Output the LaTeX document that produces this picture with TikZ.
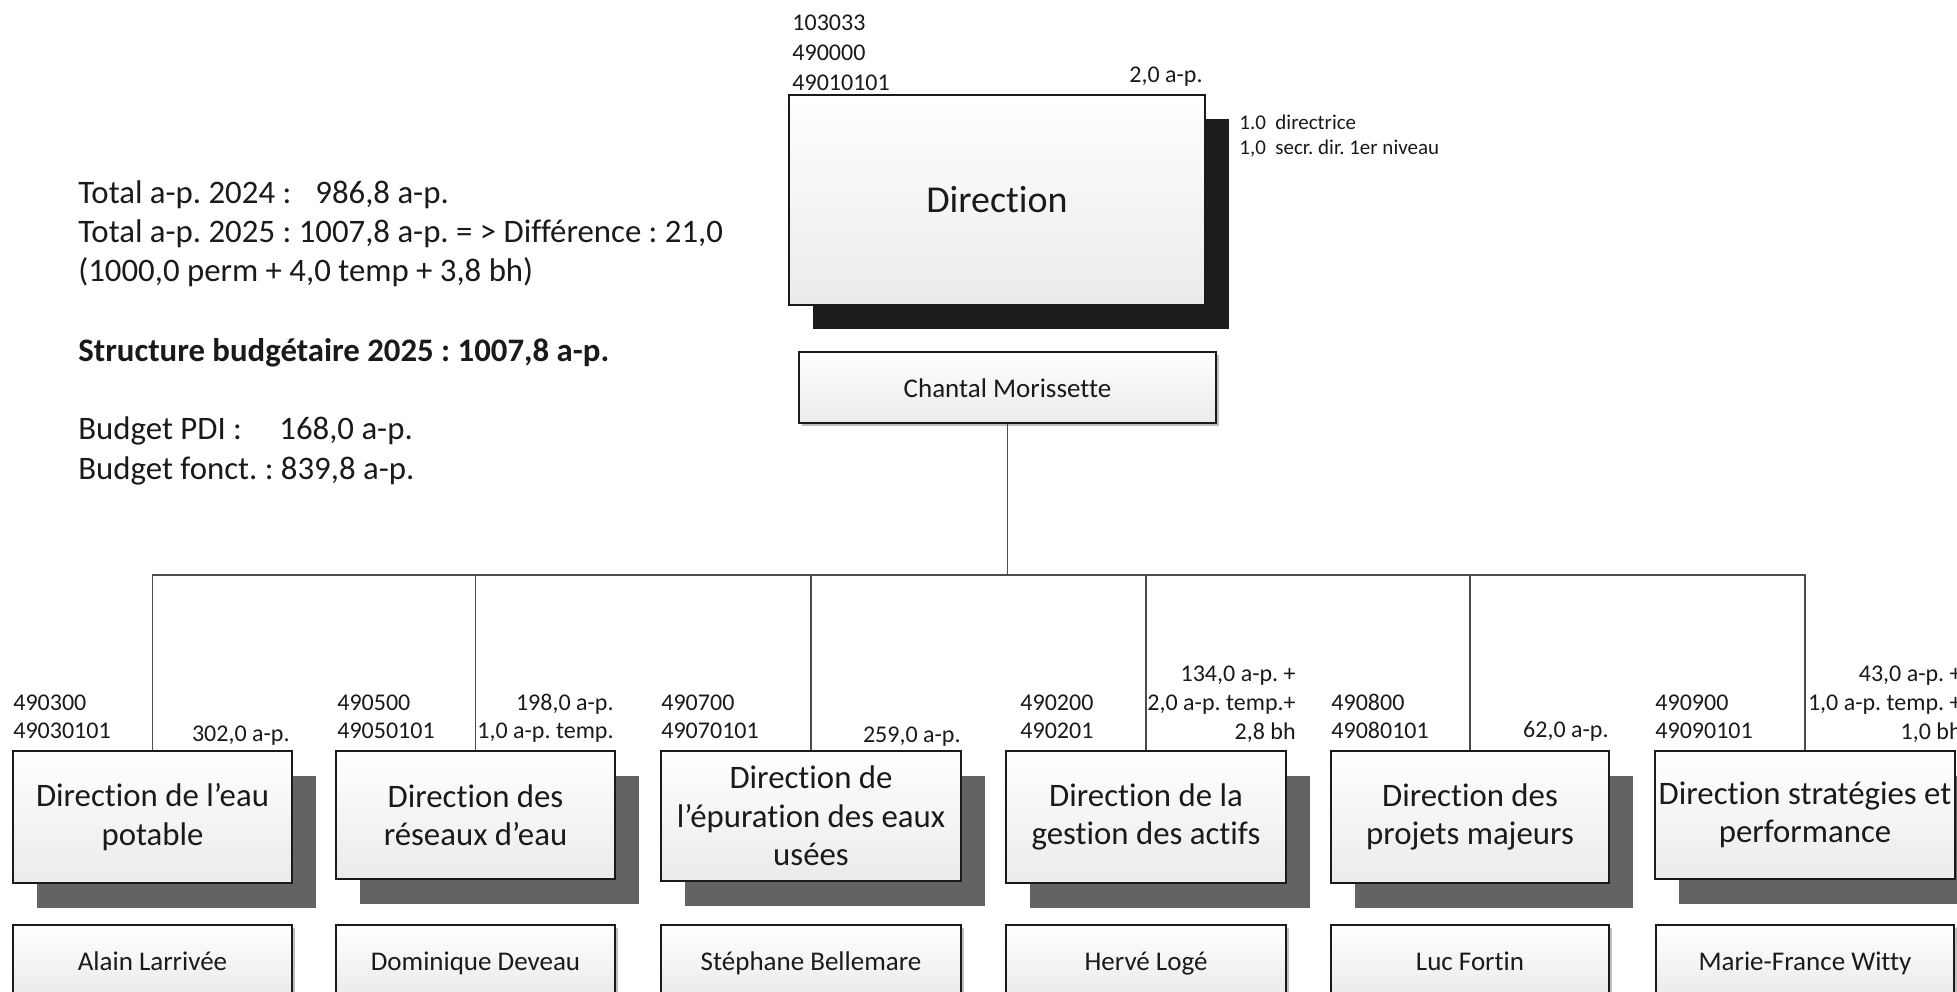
\documentclass[tikz,border=0pt]{standalone}
\usepackage{fontspec}
\setmainfont{Carlito}[Ligatures=NoCommon]
\usetikzlibrary{shadows}
\definecolor{shdark}{HTML}{636363}
\definecolor{shblack}{HTML}{1C1C1C}
\definecolor{ink}{HTML}{1A1A1A}
\begin{document}
\frenchspacing
\begin{tikzpicture}[x=0.5pt,y=-0.5pt,
 boxbase/.style={draw=ink, line width=1pt, top color=white, bottom color=black!8, inner sep=2pt, align=center, text=ink},
 dirbox/.style={boxbase, drop shadow={shadow xshift=12pt, shadow yshift=-12.5pt, fill=shdark, opacity=1}, font=\fontsize{16.4}{19.2}\selectfont},
 topbox/.style={boxbase, drop shadow={shadow xshift=12pt, shadow yshift=-12pt, fill=shblack, opacity=1}, font=\fontsize{19}{23}\selectfont},
 namebox/.style={boxbase, drop shadow={shadow xshift=1.5pt, shadow yshift=-1.5pt, fill=black!25, opacity=1}, font=\fontsize{13.5}{16}\selectfont, text height=0.7em+5pt, text depth=0.2em},
 num/.style={inner sep=0pt, font=\fontsize{12}{14}\selectfont, text=ink},
 small/.style={inner sep=0pt, font=\fontsize{10.5}{12}\selectfont, text=ink},
 info/.style={inner sep=0pt, font=\fontsize{16.4}{19}\selectfont, text=ink},
 link/.style={draw=black!70, line width=0.8pt}]
\useasboundingbox (0,0) rectangle (1957,991);
\clip (0,0) rectangle (1957,991);
\fill[white] (0,0) rectangle (1957,991);

% top
\node[topbox, minimum width=208pt, minimum height=105pt] (dir) at (997,200) {Direction};
\node[namebox, minimum width=208.5pt, minimum height=35.5pt] (chantal) at (1007.5,387.5) {Chantal Morissette};
\node[num, anchor=base west] (c1) at (792,30) {103033};
\node[num, anchor=base west] (c2) at (792,60) {490000};
\node[num, anchor=base west] (c3) at (792,90) {49010101};
\node[num, anchor=base east] (ap0) at (1203,82) {2,0 a-p.};
\node[small, anchor=base west] (r1) at (1239,129) {1.0\hspace{0.45em}directrice};
\node[small, anchor=base west] (r2) at (1239,154) {1,0\hspace{0.45em}secr. dir. 1er niveau};

% info block
\node[info, anchor=base west] (t1) at (78,203) {Total a-p. 2024 :};
\node[info, anchor=base west] (t1v) at (315,203) {986,8 a-p.};
\node[info, anchor=base west] (t2) at (78,242) {Total a-p. 2025 : 1007,8 a-p. = > Différence : 21,0};
\node[info, anchor=base west] (t3) at (78,281) {(1000,0 perm + 4,0 temp + 3,8 bh)};
\node[info, anchor=base west, font=\fontsize{16.4}{19}\selectfont\bfseries] (t4) at (78,361) {Structure budgétaire 2025 : 1007,8 a-p.};
\node[info, anchor=base west] (t5) at (78,439) {Budget PDI :};
\node[info, anchor=base west] (t5v) at (279,439) {168,0 a-p.};
\node[info, anchor=base west] (t6) at (78,479) {Budget fonct. : 839,8 a-p.};

% directions
\node[dirbox, minimum width=139.5pt, minimum height=66pt] (d1) at (152.5,817) {Direction de l’eau\\potable};
\node[dirbox, minimum width=139.5pt, minimum height=64pt] (d2) at (475.5,815) {Direction des\\réseaux d’eau};
\node[dirbox, minimum width=150pt, minimum height=65pt] (d3) at (811,816) {Direction de\\l’épuration des eaux\\usées};
\node[dirbox, minimum width=140pt, minimum height=66pt] (d4) at (1146,817) {Direction de la\\gestion des actifs};
\node[dirbox, minimum width=139pt, minimum height=66pt] (d5) at (1470,817) {Direction des\\projets majeurs};
\node[dirbox, minimum width=149pt, minimum height=64pt] (d6) at (1805,815) {Direction stratégies et\\performance};

% names
\node[namebox, minimum width=139.5pt, minimum height=35pt] (m1) at (152.5,960) {Alain Larrivée};
\node[namebox, minimum width=139.5pt, minimum height=35pt] (m2) at (475.5,960) {Dominique Deveau};
\node[namebox, minimum width=150pt, minimum height=35pt] (m3) at (811,960) {Stéphane Bellemare};
\node[namebox, minimum width=140pt, minimum height=35pt] (m4) at (1146,960) {Hervé Logé};
\node[namebox, minimum width=139pt, minimum height=35pt] (m5) at (1470,960) {Luc Fortin};
\node[namebox, minimum width=149pt, minimum height=35pt] (m6) at (1805,960) {Marie-France Witty};

% numbers above boxes
\node[num, anchor=base west] (a1) at (13,710) {490300};
\node[num, anchor=base west] (b1) at (13,738) {49030101};
\node[num, anchor=base east] (p1) at (290,741) {302,0 a-p.};
\node[num, anchor=base west] (a2) at (337,710) {490500};
\node[num, anchor=base west] (b2) at (337,738) {49050101};
\node[num, anchor=base east] (p2) at (614,710) {198,0 a-p.};
\node[num, anchor=base east] (q2) at (614,738) {1,0 a-p. temp.};
\node[num, anchor=base west] (a3) at (661,710) {490700};
\node[num, anchor=base west] (b3) at (661,738) {49070101};
\node[num, anchor=base east] (p3) at (961,742) {259,0 a-p.};
\node[num, anchor=base west] (a4) at (1020,710) {490200};
\node[num, anchor=base west] (b4) at (1020,738) {490201};
\node[num, anchor=base east] (p4) at (1296,681) {134,0 a-p. +};
\node[num, anchor=base east] (q4) at (1296,710) {2,0 a-p. temp.+};
\node[num, anchor=base east] (s4) at (1296,739) {2,8 bh};
\node[num, anchor=base west] (a5) at (1331,710) {490800};
\node[num, anchor=base west] (b5) at (1331,738) {49080101};
\node[num, anchor=base east] (p5) at (1609,737) {62,0 a-p.};
\node[num, anchor=base west] (a6) at (1655,710) {490900};
\node[num, anchor=base west] (b6) at (1655,738) {49090101};
\node[num, anchor=base east] (p6) at (1962,681) {43,0 a-p. +};
\node[num, anchor=base east] (q6) at (1962,710) {1,0 a-p. temp. +};
\node[num, anchor=base east] (s6) at (1962,739) {1,0 bh};

% connectors
\coordinate (bus) at (1007.5,575);
\draw[link] (chantal.south) -- (bus);
\foreach \d in {d1,d2,d3,d4,d5,d6}{\draw[link] (\d.north) |- (bus);}
\end{tikzpicture}
\end{document}
